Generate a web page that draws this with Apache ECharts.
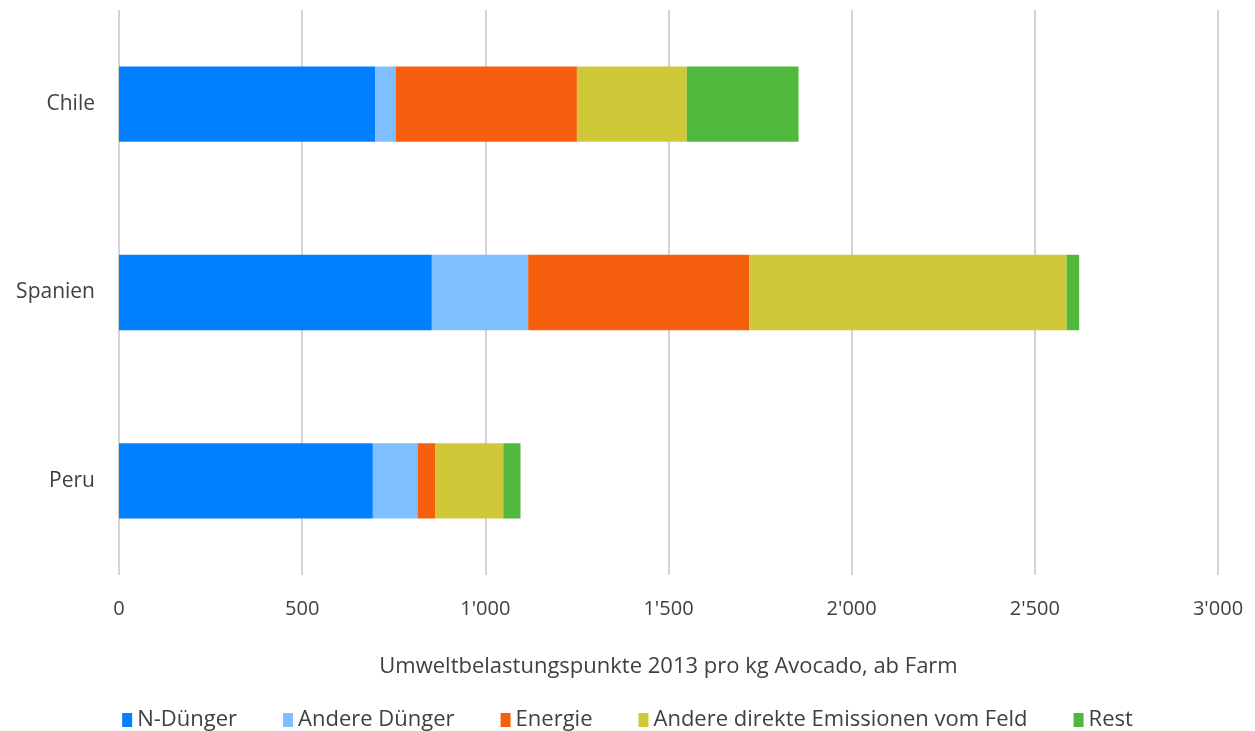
<!DOCTYPE html>
<html>
<head>
<meta charset="utf-8">
<script src="https://cdn.jsdelivr.net/npm/echarts@6/dist/echarts.min.js"></script>
<style>
  html, body { margin: 0; padding: 0; background: #fff; }
  #main { width: 1255px; height: 731px; }
</style>
</head>
<body>
<div id="main"></div>
<script>
var countries = ['Chile', 'Spanien', 'Peru'];
var seriesNames = ['N-Dünger', 'Andere Dünger', 'Energie', 'Andere direkte Emissionen vom Feld', 'Rest'];
var nDuenger = [699, 854, 693];
var andereDuenger = [56, 263, 122];
var energie = [495, 604, 49];
var andereEmissionen = [300, 866, 185];
var rest = [305, 34, 47];
var colors = ['#0080ff', '#80bfff', '#f65f0d', '#cfc93a', '#50b83c'];

var values = [nDuenger, andereDuenger, energie, andereEmissionen, rest];
var font = '"Open Sans", sans-serif';

var chart = echarts.init(document.getElementById('main'));

function fmt(v) {
  return String(v).replace(/\B(?=(\d{3})+(?!\d))/g, "'");
}

var option = {
  animation: false,
  textStyle: { fontFamily: font },
  grid: { left: 119, right: 37, top: 10, bottom: 156 },
  legend: {
    top: 704,
    left: 'center',
    icon: 'rect',
    itemWidth: 10,
    itemHeight: 14,
    itemGap: 46,
    textStyle: { fontSize: 22, color: '#404040', fontFamily: font },
    data: seriesNames
  },
  xAxis: {
    type: 'value',
    min: 0,
    max: 3000,
    interval: 500,
    name: 'Umweltbelastungspunkte 2013 pro kg Avocado, ab Farm',
    nameLocation: 'middle',
    nameGap: 81,
    nameTextStyle: { fontSize: 22, color: '#404040' },
    axisLine: { show: false },
    axisTick: { show: false },
    axisLabel: { fontSize: 20, color: '#404040', margin: 24, formatter: fmt },
    splitLine: { lineStyle: { color: '#d4d4d4', width: 2 } }
  },
  yAxis: {
    type: 'category',
    inverse: true,
    data: countries,
    axisLine: { show: false },
    axisTick: { show: false },
    axisLabel: { fontSize: 21, color: '#404040', margin: 24 }
  },
  series: seriesNames.map(function (name, i) {
    return {
      name: name,
      type: 'bar',
      stack: 'total',
      barCategoryGap: '60%',
      itemStyle: { color: colors[i] },
      data: values[i]
    };
  })
};

chart.setOption(option);
</script>
</body>
</html>
